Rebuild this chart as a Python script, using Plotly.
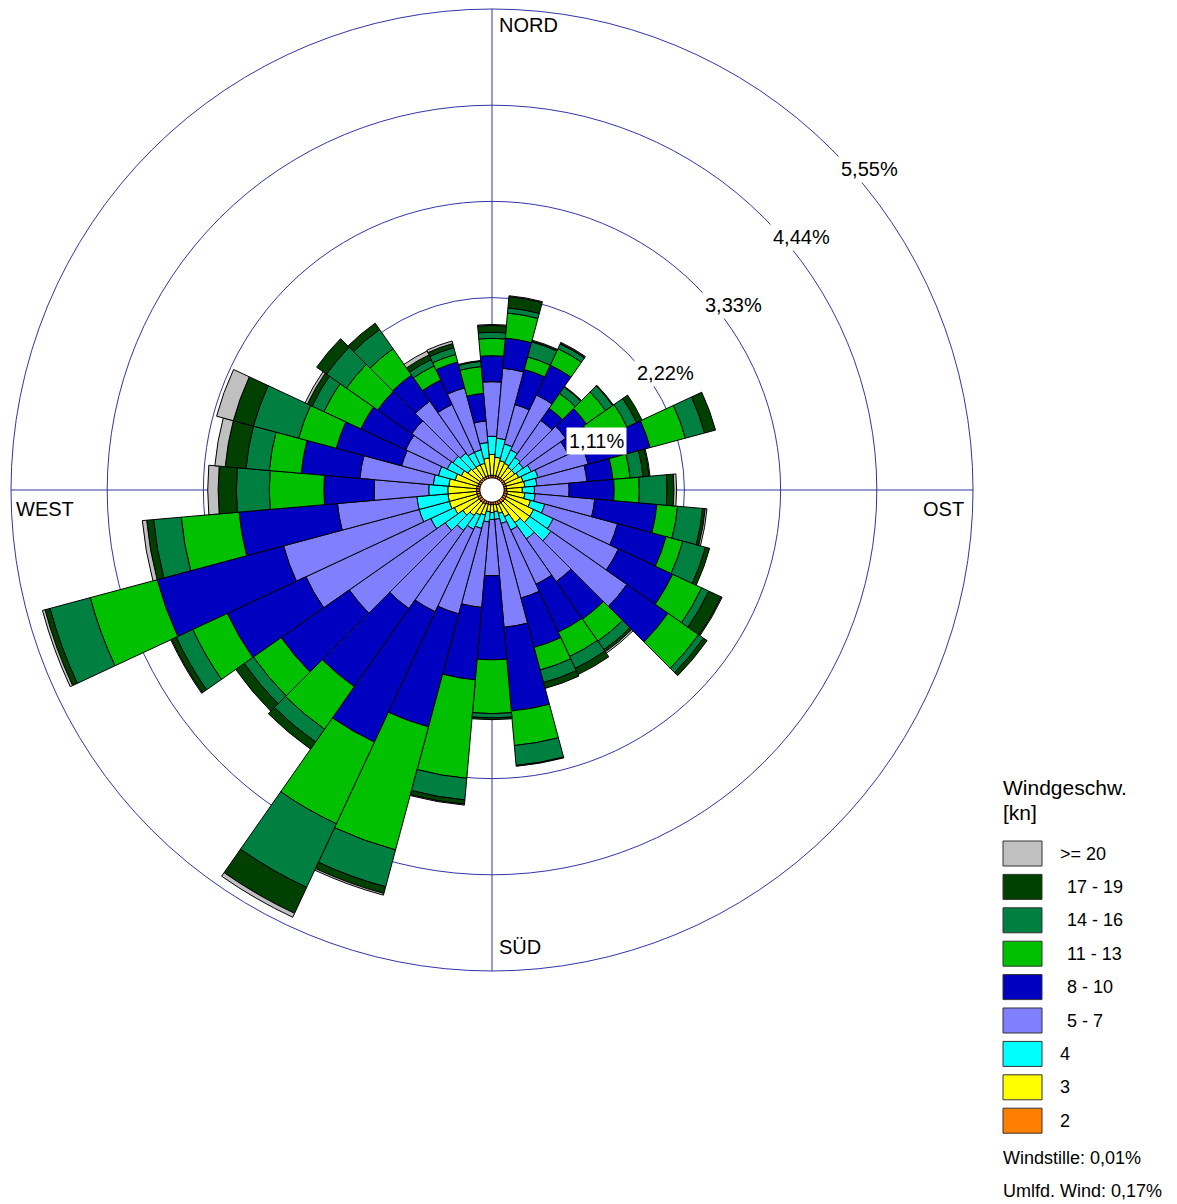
import plotly.graph_objects as go

# ---------------------------------------------------------------------------
# Wind rose data: frequency (%) per 10-degree sector and speed class [kn]
# Sector centres clockwise from north: 0, 10, ..., 350 degrees
# ---------------------------------------------------------------------------
DIRECTIONS = list(range(0, 360, 10))

SPEED_LABELS = ["2", "3", "4", " 5 - 7", " 8 - 10", " 11 - 13", " 14 - 16", " 17 - 19", ">= 20"]
SPEED_COLORS = ["#FF8000", "#FFFF00", "#00FFFF", "#8080FF", "#0000C0",
                "#00C000", "#008040", "#004000", "#C0C0C0"]

KN_2 = [0.03, 0.03, 0.03, 0.03, 0.03, 0.03, 0.03, 0.03, 0.03, 0.03,
        0.04, 0.04, 0.04, 0.04, 0.04, 0.04, 0.04, 0.03, 0.03, 0.03,
        0.03, 0.04, 0.04, 0.04, 0.04, 0.04, 0.04, 0.04, 0.04, 0.03,
        0.03, 0.03, 0.03, 0.03, 0.03, 0.03]
KN_3 = [0.24, 0.21, 0.18, 0.17, 0.15, 0.15, 0.17, 0.20, 0.21, 0.18,
        0.20, 0.28, 0.35, 0.35, 0.28, 0.16, 0.10, 0.08, 0.09, 0.08,
        0.13, 0.14, 0.18, 0.23, 0.30, 0.33, 0.33, 0.33, 0.32, 0.27,
        0.22, 0.17, 0.15, 0.15, 0.15, 0.20]
KN_4 = [0.21, 0.22, 0.20, 0.17, 0.14, 0.12, 0.16, 0.18, 0.14, 0.14,
        0.12, 0.17, 0.25, 0.30, 0.23, 0.17, 0.12, 0.09, 0.08, 0.12,
        0.16, 0.18, 0.21, 0.25, 0.30, 0.36, 0.36, 0.22, 0.18, 0.20,
        0.18, 0.21, 0.20, 0.16, 0.16, 0.18]
KN_5_7 = [0.63, 0.81, 0.47, 0.70, 0.52, 0.60, 0.47, 0.60, 0.58, 0.40,
          0.69, 0.87, 0.83, 1.07, 0.60, 0.69, 0.89, 1.25, 0.65, 0.99,
          1.02, 1.05, 1.10, 1.35, 1.59, 1.62, 0.92, 0.63, 0.85, 0.44,
          0.53, 0.58, 0.73, 0.61, 0.74, 0.25]
KN_8_10 = [0.30, 0.35, 0.42, 0.38, 0.17, 0.29, 0.32, 0.74, 0.30, 0.52,
           0.72, 0.58, 0.69, 0.58, 0.53, 0.61, 0.59, 0.97, 0.97, 0.84,
           1.35, 1.66, 1.10, 0.96, 1.00, 1.51, 1.14, 0.58, 0.68, 0.78,
           0.57, 0.48, 0.37, 0.31, 0.31, 0.32]
KN_11_13 = [0.20, 0.29, 0.15, 0.21, 0.21, 0.27, 0.43, 0.42, 0.20, 0.29,
            0.24, 0.20, 0.37, 0.43, 0.31, 0.31, 0.27, 0.40, 0.62, 1.14,
            1.47, 1.04, 0.60, 0.39, 0.44, 0.80, 0.67, 0.63, 0.37, 0.45,
            0.47, 0.44, 0.37, 0.18, 0.09, 0.31]
KN_14_16 = [0.07, 0.06, 0.18, 0.06, 0.09, 0.10, 0.12, 0.23, 0.15, 0.32,
            0.29, 0.27, 0.09, 0.07, 0.12, 0.15, 0.15, 0.23, 0.05, 0.25,
            0.44, 0.81, 0.18, 0.13, 0.21, 0.48, 0.32, 0.38, 0.27, 0.54,
            0.15, 0.28, 0.27, 0.08, 0.08, 0.06]
KN_17_19 = [0.08, 0.13, 0.01, 0.01, 0.01, 0.01, 0.07, 0.13, 0.07, 0.08,
            0.03, 0.05, 0.16, 0.05, 0.03, 0.08, 0.07, 0.01, 0.02, 0.05,
            0.08, 0.33, 0.10, 0.12, 0.06, 0.06, 0.08, 0.21, 0.24, 0.24,
            0.06, 0.14, 0.09, 0.06, 0.05, 0.01]
KN_20_PLUS = [0.01, 0.01, 0.01, 0.01, 0.00, 0.00, 0.00, 0.00, 0.01, 0.03,
              0.02, 0.00, 0.01, 0.00, 0.02, 0.00, 0.00, 0.00, 0.00, 0.01,
              0.02, 0.05, 0.00, 0.00, 0.01, 0.03, 0.05, 0.12, 0.12, 0.20,
              0.03, 0.00, 0.00, 0.05, 0.03, 0.00]

SERIES = [KN_2, KN_3, KN_4, KN_5_7, KN_8_10, KN_11_13, KN_14_16, KN_17_19, KN_20_PLUS]

RING_VALUES = [1.11, 2.22, 3.33, 4.44, 5.55]
RING_LABELS = ["1,11%", "2,22%", "3,33%", "4,44%", "5,55%"]
CALM_TEXT = "Windstille: 0,01%"
VARIABLE_TEXT = "Umlfd. Wind: 0,17%"

# ---------------------------------------------------------------------------
# Layout constants (pixels)
# ---------------------------------------------------------------------------
W, H = 1177, 1204
CX, CY, R = 492, 490, 481          # centre and outer radius of the rose
R_MAX = 5.55                       # radial range of the outer ring
CENTER_HOLE = 0.14                 # empty disc at the centre (radial units)
GRID = "#3434A8"
FONT = "Liberation Sans, Arial, sans-serif"


def px(x):
    return x / W


def py(y):
    return 1 - y / H


fig = go.Figure()

# white disc hiding the crosshair at the centre
fig.add_trace(go.Barpolar(r=[CENTER_HOLE], theta=[0], width=[360], base=0,
                          marker=dict(color="white", line=dict(width=0)),
                          hoverinfo="skip"))

# stacked speed classes, each starting where the previous one ends
bases = [CENTER_HOLE] * len(DIRECTIONS)
for label, color, values in zip(SPEED_LABELS, SPEED_COLORS, SERIES):
    fig.add_trace(go.Barpolar(
        r=values, theta=DIRECTIONS, base=list(bases), width=[10] * len(DIRECTIONS),
        name=label.strip(),
        marker=dict(color=color, line=dict(color="black", width=1)),
    ))
    bases = [b + v for b, v in zip(bases, values)]

fig.update_layout(
    width=W, height=H,
    margin=dict(l=0, r=0, t=0, b=0),
    paper_bgcolor="white",
    showlegend=False,
    barmode="overlay",
    font=dict(family=FONT, color="black"),
    polar=dict(
        domain=dict(x=[px(CX - R), px(CX + R)], y=[py(CY + R), py(CY - R)]),
        bgcolor="white",
        radialaxis=dict(range=[0, R_MAX], tickvals=RING_VALUES, showticklabels=False,
                        ticks="", showline=False, gridcolor=GRID, gridwidth=1),
        angularaxis=dict(direction="clockwise", rotation=90, tickvals=[0, 90, 180, 270],
                         showticklabels=False, ticks="", gridcolor=GRID, gridwidth=1,
                         showline=True, linecolor=GRID, linewidth=1),
    ),
)

annotations = []

# ring labels along the north-east diagonal
for v, txt in zip(RING_VALUES, RING_LABELS):
    rr = v / R_MAX * R
    x0 = CX + rr * 0.7071 + 6
    y0 = CY - rr * 0.7071 + 5
    annotations.append(dict(x=px(x0), y=py(y0), xref="paper", yref="paper",
                            text=txt, showarrow=False, xanchor="left", yanchor="top",
                            font=dict(size=20, family=FONT, color="black"),
                            bgcolor="white", borderpad=2))

# compass labels
for txt, x, y, xa in [("NORD", 497, 12, "left"), ("OST", 966, 496, "right"),
                      ("WEST", 14, 496, "left"), ("SÜD", 497, 934, "left")]:
    annotations.append(dict(x=px(x), y=py(y), xref="paper", yref="paper", text=txt,
                            showarrow=False, xanchor=xa, yanchor="top",
                            font=dict(size=20, family=FONT, color="black")))

# legend
LEG_X = 1003
annotations.append(dict(x=px(LEG_X - 2), y=py(787), xref="paper", yref="paper",
                        text="Windgeschw.", showarrow=False, xanchor="left",
                        yanchor="middle", font=dict(size=21, family=FONT)))
annotations.append(dict(x=px(LEG_X - 2), y=py(812), xref="paper", yref="paper",
                        text="[kn]", showarrow=False, xanchor="left",
                        yanchor="middle", font=dict(size=21, family=FONT)))

shapes = []
BOX_TOP, BOX_STEP, BOX_H = 841, 33.4, 25
for i, (label, color) in enumerate(zip(SPEED_LABELS[::-1], SPEED_COLORS[::-1])):
    y0 = BOX_TOP + i * BOX_STEP
    shapes.append(dict(type="rect", xref="paper", yref="paper",
                       x0=px(LEG_X), x1=px(LEG_X + 39), y0=py(y0), y1=py(y0 + BOX_H),
                       fillcolor=color, line=dict(color="#333333", width=1)))
    tx = LEG_X + 55 + (7 if label.startswith(" ") else 0)
    annotations.append(dict(x=px(tx), y=py(y0 + BOX_H / 2), xref="paper", yref="paper",
                            text=label.strip(), showarrow=False, xanchor="left",
                            yanchor="middle", font=dict(size=18, family=FONT)))

for txt, yc in [(CALM_TEXT, 1158), (VARIABLE_TEXT, 1191)]:
    annotations.append(dict(x=px(LEG_X - 2), y=py(yc), xref="paper", yref="paper",
                            text=txt, showarrow=False, xanchor="left",
                            yanchor="middle", font=dict(size=18, family=FONT)))

fig.update_layout(annotations=annotations, shapes=shapes)

fig.write_html("out.html")
